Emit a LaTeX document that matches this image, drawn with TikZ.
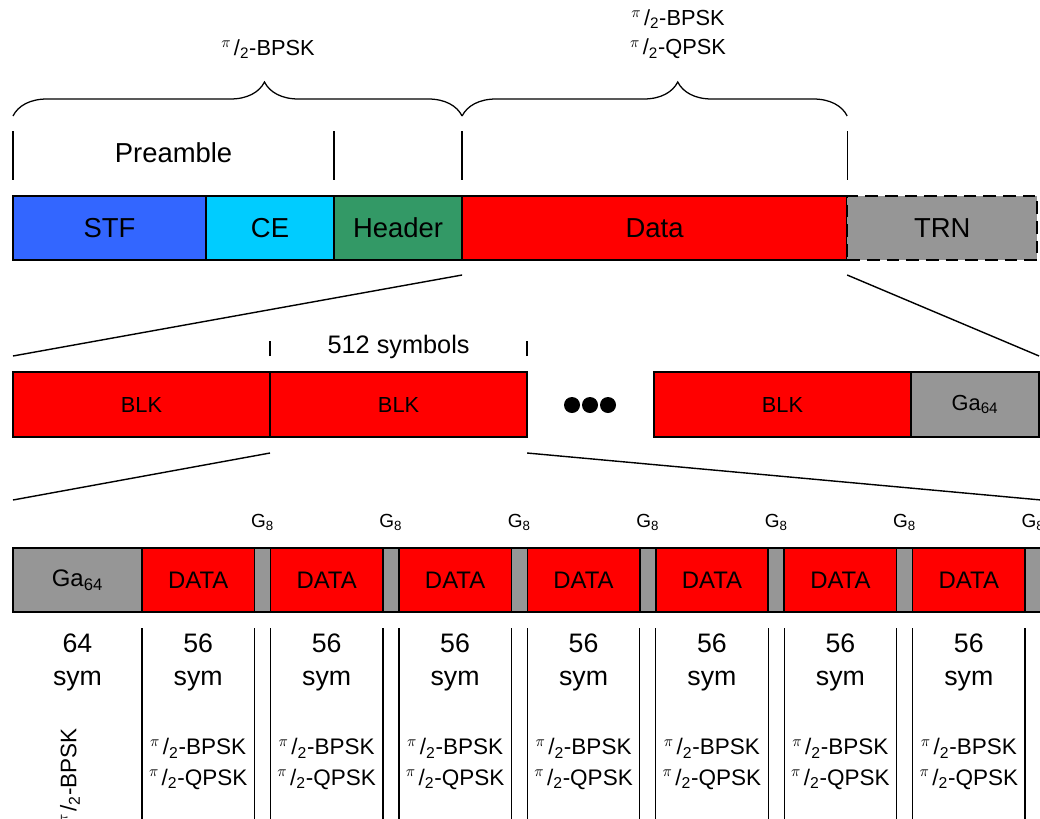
\documentclass[tikz,border=0pt]{standalone}
\usepackage{fontspec}
\setmainfont{Liberation Sans}
\usepackage{xcolor}
\usetikzlibrary{positioning, calc, decorations.pathreplacing}

\definecolor{stfblue}{HTML}{3366FF}
\definecolor{ceblue}{HTML}{00CCFF}
\definecolor{hdrgreen}{HTML}{339966}
\definecolor{guardgrey}{HTML}{969696}
\newcommand{\pitwo}{\textsuperscript{$\pi$}\kern0.12em/\textsubscript{2}}

\begin{document}
\begin{tikzpicture}[x=0.025cm, y=-0.025cm,
            field/.style={rectangle, draw=black, line width=1.3pt, inner sep=0pt, outer sep=0pt, minimum height=1.6cm, font=\fontsize{19.5}{23}\selectfont},
            blk/.style={rectangle, draw=black, line width=1.1pt, inner sep=0pt, outer sep=0pt, minimum height=1.625cm, fill=red, font=\fontsize{15.5}{18}\selectfont},
            sub/.style={rectangle, draw=black, line width=1.1pt, inner sep=0pt, outer sep=0pt, minimum height=1.6cm, font=\fontsize{17}{20}\selectfont},
            tick/.style={line width=0.9pt},
            brace/.style={decorate, decoration={brace, amplitude=0.85cm, aspect=0.56}, line width=0.9pt},
            zoomline/.style={line width=1pt},
            modtop/.style={align=center, font=\fontsize{15.5}{21}\selectfont},
            symtext/.style={align=center, font=\fontsize{19}{23.5}\selectfont},
            modtext/.style={align=center, font=\fontsize{16}{21.5}\selectfont},
            glabel/.style={font=\fontsize{13.5}{15}\selectfont}
        ]
\useasboundingbox (0,0) rectangle (1040,818);

% Frame fields
            \node[field, fill=stfblue, minimum width=4.825cm] (stf) at (109.5,228) {STF};
            \node[field, fill=ceblue, minimum width=3.2cm, right=0pt of stf] (ce) {CE};
            \node[field, fill=hdrgreen, minimum width=3.2cm, right=0pt of ce] (hdr) {Header};
            \node[field, fill=red, minimum width=9.625cm, right=0pt of hdr] (data) {Data};
            \node[field, fill=guardgrey, dash pattern=on 9pt off 5pt, minimum width=4.75cm, right=0pt of data] (trn) {TRN};

% Ticks, braces and labels above the frame
            \foreach \p in {stf.north west, hdr.north west, data.north west, data.north east}
                \draw[tick] ($(\p)+(0,-16)$) -- ++(0,-49);
            \node[field, draw=none, fill=none] (pre) at ($(stf.north west)!0.5!(hdr.north west)+(0,-43)$) {Preamble};
            \draw[brace] ($(stf.north west)+(0,-80)$) -- ($(data.north west)+(0,-80)$);
            \draw[brace] ($(data.north west)+(0,-80)$) -- ($(data.north east)+(0,-80)$);
            \node[modtop] (mod1) at (268,49) {\pitwo-BPSK};
            \node[modtop] (mod2) at (678,34) {\pitwo-BPSK\\\pitwo-QPSK};

% Blocks
            \node[blk, minimum width=6.425cm] (blk1) at (141.5,404.5) {BLK};
            \node[blk, minimum width=6.425cm, right=0pt of blk1] (blk2) {BLK};
            \node[blk, minimum width=6.425cm] (blk3) at (782.5,404.5) {BLK};
            \node[blk, fill=guardgrey, minimum width=3.2cm, right=0pt of blk3] (gatail) {Ga\textsubscript{64}};
            \node (dots) at (590,405) {};
            \foreach \dx in {-18,0,18}
                \fill ($(dots)+(\dx,0)$) circle (0.2cm);
            \draw[tick] ($(blk1.north east)+(0,-16)$) -- ++(0,-15);
            \draw[tick] ($(blk2.north east)+(0,-16)$) -- ++(0,-15);
            \node[symtext, font=\fontsize{18}{22}\selectfont] (len) at ($(blk2.north)+(0,-25)$) {512 symbols};

% Symbols of one block
            \node[sub, fill=guardgrey, minimum width=3.225cm] (gap0) at (77.5,580) {Ga\textsubscript{64}};
            \node[symtext] at ($(gap0.south)+(0,50)$) {64\\sym};
            \node[modtext, rotate=90] at (70,776) {\pitwo-BPSK};
            \foreach \i [remember=\i as \j (initially 0)] in {1,...,7}{
                \node[sub, fill=red, minimum width=2.81cm, right=0pt of gap\j] (dat\i) {DATA};
                \node[sub, fill=guardgrey, minimum width=0.4cm, right=0pt of dat\i] (gap\i) {};
                \node[glabel] at ($(gap\i.north)+(0,-26)$) {G\textsubscript{8}};
                \node[symtext] at ($(dat\i.south)+(0,50)$) {56\\sym};
                \node[modtext] at ($(dat\i.south)+(0,152)$) {\pitwo-BPSK\\\pitwo-QPSK};
                \draw[tick] ($(dat\i.south west)+(0,16)$) -- ++(0,200);
                \draw[tick] ($(dat\i.south east)+(0,16)$) -- ++(0,200);
            }
            \draw[tick] ($(gap7.south east)+(0,16)$) -- ++(0,200);

% Zoom lines
            \draw[zoomline] ($(data.south west)+(0,15)$) -- ($(blk1.north west)+(0,-16)$);
            \draw[zoomline] ($(trn.south west)+(0,15)$) -- ($(gatail.north east)+(0,-16)$);
            \draw[zoomline] ($(blk2.south west)+(0,16)$) -- ($(gap0.north west)+(0,-48)$);
            \draw[zoomline] ($(blk2.south east)+(0,16)$) -- ($(gap7.north east)+(0,-48)$);

        \end{tikzpicture}
\end{document}
